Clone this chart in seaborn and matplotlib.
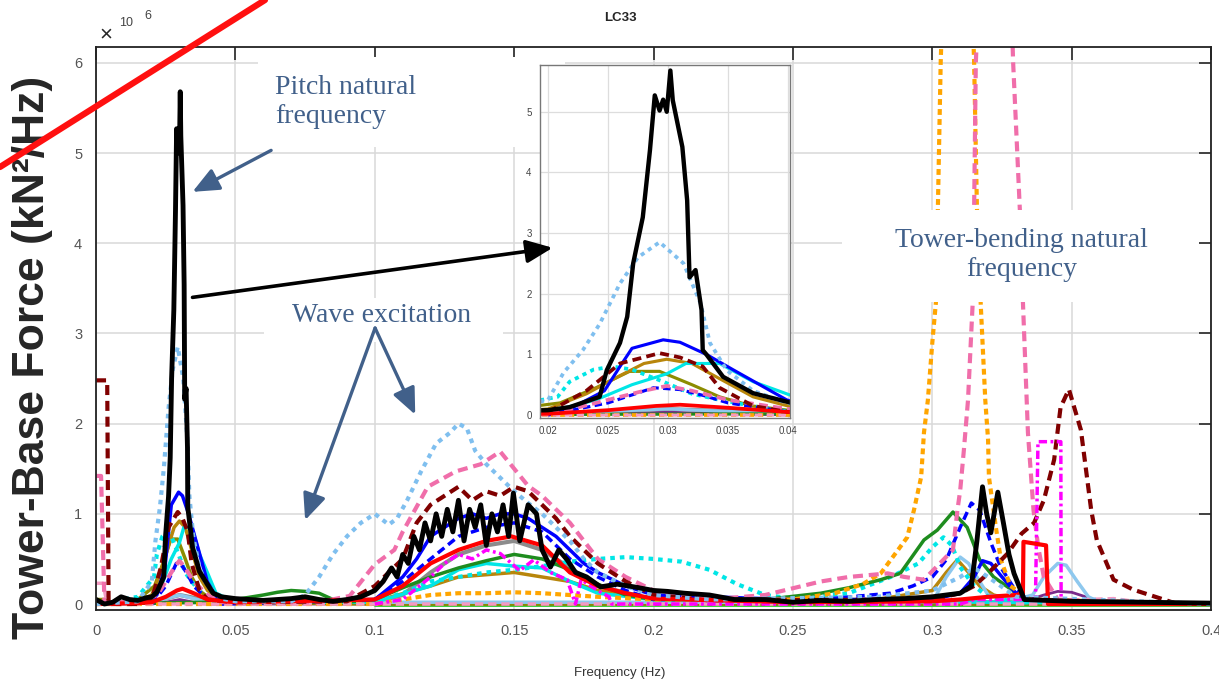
import matplotlib
matplotlib.use("Agg")
import matplotlib.pyplot as plt
import seaborn as sns
from matplotlib.patches import Rectangle
from matplotlib.lines import Line2D

# PSD of tower-base force for LC33, values in 1e6 kN^2/Hz
# each series is a list of (frequency Hz, psd) points
black = [(0.0, 0.05), (0.003, 0.0), (0.006, 0.02), (0.009, 0.08), (0.012, 0.05), (0.015, 0.04),
         (0.018, 0.07), (0.02, 0.08), (0.0218, 0.13), (0.0243, 0.3), (0.0249, 0.74), (0.026, 1.19),
         (0.0266, 1.62), (0.0271, 2.5), (0.0279, 3.26), (0.0285, 4.37), (0.0289, 5.27), (0.0293, 5.02),
         (0.0296, 5.2), (0.0299, 5.0), (0.0302, 5.68), (0.0304, 5.19), (0.0312, 4.42), (0.0316, 3.54),
         (0.0318, 2.27), (0.0323, 2.39), (0.0328, 1.73), (0.0329, 1.07), (0.0332, 1.0), (0.0346, 0.63),
         (0.0371, 0.36), (0.0399, 0.22), (0.042, 0.12), (0.045, 0.08), (0.05, 0.06), (0.055, 0.05),
         (0.06, 0.04), (0.065, 0.05), (0.07, 0.06), (0.075, 0.08), (0.08, 0.05), (0.085, 0.03),
         (0.09, 0.05), (0.095, 0.08), (0.1, 0.15), (0.103, 0.25), (0.106, 0.4), (0.108, 0.3),
         (0.11, 0.55), (0.112, 0.45), (0.114, 0.75), (0.116, 0.6), (0.118, 0.9), (0.12, 0.7),
         (0.122, 1.0), (0.124, 0.75), (0.126, 1.05), (0.128, 0.8), (0.13, 1.15), (0.132, 0.7),
         (0.134, 1.05), (0.136, 0.85), (0.138, 1.1), (0.14, 0.65), (0.142, 1.0), (0.144, 0.8),
         (0.146, 1.1), (0.148, 0.75), (0.1497, 1.23), (0.152, 0.7), (0.155, 1.1), (0.158, 1.0),
         (0.16, 0.6), (0.163, 0.41), (0.166, 0.6), (0.169, 0.49), (0.172, 0.35), (0.176, 0.3),
         (0.181, 0.19), (0.187, 0.22), (0.193, 0.19), (0.2, 0.15), (0.205, 0.14), (0.211, 0.12),
         (0.22, 0.1), (0.229, 0.05), (0.24, 0.05), (0.25, 0.02), (0.26, 0.04), (0.27, 0.03),
         (0.28, 0.05), (0.29, 0.06), (0.3, 0.08), (0.305, 0.1), (0.31, 0.12), (0.314, 0.2),
         (0.316, 0.7), (0.318, 1.3), (0.3195, 1.0), (0.321, 0.79), (0.3235, 1.24), (0.3255, 0.9),
         (0.3275, 0.55), (0.3293, 0.34), (0.333, 0.05), (0.35, 0.03), (0.4, 0.01)]

skyblue = [(0.0, 0.0), (0.015, 0.03), (0.02, 0.25), (0.0213, 0.7), (0.0229, 1.07), (0.0243, 1.5),
           (0.026, 2.17), (0.0275, 2.6), (0.0293, 2.85), (0.0313, 2.5), (0.0327, 1.85), (0.0335, 1.19),
           (0.0349, 0.74), (0.0371, 0.4), (0.0399, 0.2), (0.045, 0.06), (0.05, 0.03), (0.07, 0.03),
           (0.075, 0.1), (0.08, 0.3), (0.085, 0.55), (0.09, 0.75), (0.095, 0.9), (0.1, 1.0),
           (0.105, 0.88), (0.108, 0.95), (0.1116, 1.15), (0.1166, 1.47), (0.122, 1.78), (0.127, 1.9),
           (0.13, 2.0), (0.133, 1.95), (0.136, 1.7), (0.14, 1.55), (0.145, 1.4), (0.15, 1.25),
           (0.155, 1.12), (0.16, 1.0), (0.165, 0.85), (0.17, 0.7), (0.175, 0.5), (0.18, 0.35),
           (0.19, 0.2), (0.2, 0.1), (0.22, 0.05), (0.28, 0.08), (0.3, 0.15), (0.31, 0.3),
           (0.315, 0.4), (0.32, 0.3), (0.33, 0.08), (0.4, 0.0)]

pink = [(0.0, 1.42), (0.0018, 1.42), (0.003, 0.02), (0.015, 0.02), (0.022, 0.1), (0.025, 0.25),
        (0.028, 0.4), (0.0299, 0.48), (0.032, 0.4), (0.035, 0.25), (0.04, 0.1), (0.045, 0.02),
        (0.08, 0.02), (0.091, 0.09), (0.1, 0.44), (0.107, 0.6), (0.11, 0.8), (0.119, 1.3),
        (0.129, 1.47), (0.138, 1.55), (0.145, 1.69), (0.15, 1.5), (0.155, 1.31), (0.16, 1.2),
        (0.17, 0.9), (0.18, 0.5), (0.19, 0.3), (0.2, 0.15), (0.22, 0.05), (0.24, 0.1), (0.26, 0.25),
        (0.27, 0.3), (0.284, 0.34), (0.29, 0.3), (0.297, 0.27), (0.3074, 0.6), (0.309, 1.04),
        (0.31, 1.26), (0.3113, 1.7), (0.3128, 2.26), (0.3145, 3.35), (0.315, 4.4), (0.3156, 6.0),
        (0.317, 7.0), (0.328, 7.0), (0.329, 6.0), (0.3314, 4.37), (0.3325, 3.35), (0.3343, 1.9),
        (0.3363, 1.04), (0.338, 0.63), (0.34, 0.3), (0.345, 0.05), (0.36, 0.03), (0.4, 0.0)]

maroon = [(0.0, 2.48), (0.004, 2.48), (0.0045, 0.0), (0.015, 0.0), (0.02, 0.05), (0.0232, 0.4),
          (0.026, 0.85), (0.0293, 1.02), (0.031, 0.95), (0.0329, 0.8), (0.0343, 0.45), (0.0371, 0.15),
          (0.04, 0.05), (0.05, 0.02), (0.09, 0.03), (0.1, 0.2), (0.105, 0.35), (0.11, 0.5),
          (0.115, 0.9), (0.12, 1.1), (0.125, 1.2), (0.13, 1.3), (0.135, 1.15), (0.14, 1.25),
          (0.145, 1.2), (0.15, 1.3), (0.155, 1.25), (0.16, 1.1), (0.165, 0.95), (0.17, 0.75),
          (0.175, 0.6), (0.18, 0.45), (0.19, 0.25), (0.2, 0.1), (0.22, 0.04), (0.3, 0.05),
          (0.31, 0.12), (0.315, 0.2), (0.32, 0.34), (0.327, 0.56), (0.332, 0.78), (0.3365, 0.9),
          (0.34, 1.15), (0.3437, 1.6), (0.346, 2.18), (0.349, 2.38), (0.3533, 1.93), (0.357, 1.04),
          (0.359, 0.71), (0.365, 0.27), (0.372, 0.16), (0.387, 0.01), (0.4, 0.0)]

blue = [(0.0, 0.0), (0.015, 0.02), (0.0218, 0.1), (0.0247, 0.4), (0.026, 0.8), (0.027, 1.1),
        (0.0296, 1.24), (0.031, 1.2), (0.0332, 1.0), (0.0354, 0.75), (0.0399, 0.25), (0.043, 0.08),
        (0.05, 0.03), (0.1, 0.05), (0.11, 0.3), (0.115, 0.5), (0.12, 0.75), (0.125, 0.85),
        (0.13, 0.95), (0.135, 1.0), (0.14, 0.95), (0.145, 1.0), (0.15, 1.0), (0.155, 0.95),
        (0.16, 0.85), (0.165, 0.75), (0.17, 0.6), (0.175, 0.45), (0.18, 0.35), (0.19, 0.2),
        (0.2, 0.1), (0.25, 0.05), (0.3, 0.05), (0.31, 0.12), (0.315, 0.3), (0.318, 0.48),
        (0.321, 0.45), (0.325, 0.3), (0.33, 0.12), (0.335, 0.05), (0.4, 0.0)]

blue_dash = [(0.02, 0.0), (0.025, 0.2), (0.0288, 0.45), (0.031, 0.42), (0.033, 0.32), (0.035, 0.2),
             (0.04, 0.05), (0.045, 0.0), (0.1, 0.05), (0.11, 0.25), (0.12, 0.5), (0.13, 0.75),
             (0.14, 0.85), (0.15, 0.9), (0.16, 0.8), (0.17, 0.5), (0.18, 0.3), (0.19, 0.15),
             (0.2, 0.05), (0.26, 0.05), (0.285, 0.12), (0.293, 0.2), (0.3, 0.3), (0.305, 0.49),
             (0.31, 0.85), (0.314, 1.12), (0.317, 1.04), (0.321, 0.68), (0.3245, 0.41), (0.329, 0.19),
             (0.335, 0.05), (0.4, 0.0)]

cyan = [(0.0, 0.0), (0.015, 0.02), (0.02, 0.05), (0.024, 0.25), (0.027, 0.5), (0.0299, 0.68),
        (0.0315, 0.85), (0.0343, 0.85), (0.0371, 0.55), (0.0399, 0.35), (0.043, 0.12), (0.05, 0.02),
        (0.1, 0.02), (0.12, 0.2), (0.13, 0.38), (0.14, 0.45), (0.15, 0.42), (0.16, 0.4),
        (0.17, 0.25), (0.18, 0.12), (0.2, 0.05), (0.4, 0.0)]

cyan_dot = [(0.0, 0.0), (0.015, 0.08), (0.0208, 0.3), (0.0218, 0.55), (0.0238, 0.75), (0.0254, 0.8),
            (0.027, 0.75), (0.0296, 0.55), (0.032, 0.35), (0.0343, 0.25), (0.037, 0.15), (0.04, 0.06),
            (0.045, 0.02), (0.1, 0.03), (0.11, 0.12), (0.12, 0.25), (0.13, 0.3), (0.14, 0.35),
            (0.15, 0.38), (0.16, 0.42), (0.17, 0.47), (0.18, 0.5), (0.19, 0.52), (0.2, 0.5),
            (0.21, 0.47), (0.22, 0.38), (0.23, 0.22), (0.24, 0.1), (0.25, 0.06), (0.27, 0.12),
            (0.285, 0.3), (0.295, 0.45), (0.3, 0.63), (0.304, 0.74), (0.307, 0.65), (0.31, 0.41),
            (0.315, 0.2), (0.32, 0.08), (0.33, 0.02), (0.4, 0.0)]

goldenrod = [(0.0, 0.0), (0.015, 0.03), (0.02, 0.1), (0.0232, 0.35), (0.026, 0.65), (0.028, 0.85),
             (0.0299, 0.92), (0.032, 0.85), (0.0343, 0.6), (0.0371, 0.3), (0.04, 0.15), (0.045, 0.04),
             (0.1, 0.03), (0.12, 0.2), (0.13, 0.3), (0.15, 0.35), (0.17, 0.25), (0.18, 0.15),
             (0.2, 0.05), (0.28, 0.05), (0.3, 0.15), (0.305, 0.35), (0.309, 0.49), (0.313, 0.35),
             (0.317, 0.2), (0.322, 0.1), (0.33, 0.04), (0.4, 0.0)]

olive = [(0.0, 0.05), (0.003, 0.05), (0.005, 0.0), (0.015, 0.05), (0.021, 0.2), (0.024, 0.45),
         (0.0268, 0.72), (0.0293, 0.72), (0.032, 0.5), (0.0343, 0.3), (0.037, 0.15), (0.04, 0.08),
         (0.045, 0.02), (0.1, 0.0), (0.4, 0.0)]

green = [(0.0, 0.0), (0.04, 0.02), (0.05, 0.05), (0.06, 0.1), (0.065, 0.13), (0.07, 0.15),
         (0.075, 0.14), (0.08, 0.12), (0.085, 0.05), (0.09, 0.02), (0.1, 0.05), (0.11, 0.18),
         (0.12, 0.3), (0.13, 0.4), (0.14, 0.48), (0.15, 0.55), (0.16, 0.5), (0.17, 0.38),
         (0.18, 0.22), (0.19, 0.1), (0.2, 0.05), (0.24, 0.05), (0.26, 0.12), (0.27, 0.18),
         (0.2815, 0.27), (0.2885, 0.34), (0.297, 0.71), (0.3018, 0.82), (0.3074, 1.02),
         (0.3125, 0.85), (0.317, 0.49), (0.322, 0.3), (0.327, 0.19), (0.333, 0.05), (0.4, 0.0)]

red = [(0.0, 0.0), (0.015, 0.01), (0.02, 0.02), (0.025, 0.08), (0.029, 0.15), (0.031, 0.17),
       (0.035, 0.12), (0.04, 0.05), (0.05, 0.02), (0.1, 0.05), (0.11, 0.2), (0.12, 0.45),
       (0.13, 0.6), (0.14, 0.7), (0.149, 0.75), (0.16, 0.65), (0.165, 0.5), (0.17, 0.35),
       (0.18, 0.2), (0.19, 0.12), (0.2, 0.06), (0.25, 0.02), (0.3, 0.03), (0.31, 0.05),
       (0.32, 0.08), (0.33, 0.1), (0.3325, 0.12), (0.3327, 0.69), (0.3408, 0.65), (0.3415, 0.0),
       (0.4, 0.0)]

magenta = [(0.1, 0.0), (0.11, 0.05), (0.12, 0.3), (0.125, 0.45), (0.13, 0.55), (0.135, 0.5),
           (0.14, 0.6), (0.145, 0.56), (0.152, 0.37), (0.157, 0.49), (0.163, 0.35), (0.169, 0.27),
           (0.172, 0.0), (0.174, 0.27), (0.18, 0.15), (0.184, 0.08), (0.185, 0.0), (0.31, 0.0),
           (0.315, 0.05), (0.337, 0.05), (0.3379, 1.8), (0.3461, 1.8), (0.3462, 0.0), (0.4, 0.0)]

orange = [(0.0, 0.0), (0.1, 0.0), (0.11, 0.05), (0.12, 0.1), (0.13, 0.12), (0.14, 0.12),
          (0.15, 0.13), (0.16, 0.12), (0.17, 0.1), (0.18, 0.08), (0.2, 0.05), (0.25, 0.05),
          (0.265, 0.12), (0.275, 0.22), (0.2815, 0.34), (0.2877, 0.6), (0.291, 0.74), (0.2934, 1.04),
          (0.296, 1.41), (0.297, 1.9), (0.2984, 2.26), (0.3, 2.9), (0.3013, 3.35), (0.302, 4.4),
          (0.303, 6.0), (0.304, 7.0), (0.314, 7.0), (0.315, 6.0), (0.316, 4.4), (0.3174, 3.3),
          (0.319, 2.26), (0.32, 1.82), (0.3203, 1.41), (0.3228, 0.85), (0.3246, 0.49), (0.328, 0.2),
          (0.335, 0.05), (0.4, 0.0)]

gray = [(0.0, 0.0), (0.02, 0.02), (0.025, 0.06), (0.03, 0.1), (0.035, 0.07), (0.04, 0.02),
        (0.1, 0.02), (0.11, 0.1), (0.12, 0.35), (0.13, 0.55), (0.14, 0.65), (0.15, 0.7),
        (0.16, 0.6), (0.17, 0.4), (0.18, 0.2), (0.2, 0.05), (0.4, 0.0)]

purple = [(0.02, 0.0), (0.025, 0.02), (0.03, 0.05), (0.035, 0.02), (0.04, 0.0), (0.33, 0.0),
          (0.335, 0.05), (0.34, 0.1), (0.345, 0.14), (0.35, 0.13), (0.355, 0.08), (0.36, 0.02),
          (0.37, 0.0)]

lightblue = [(0.02, 0.02), (0.03, 0.1), (0.04, 0.02), (0.3, 0.02), (0.305, 0.3), (0.31, 0.52),
             (0.313, 0.45), (0.316, 0.3), (0.32, 0.1), (0.33, 0.05), (0.336, 0.1), (0.34, 0.3),
             (0.345, 0.45), (0.348, 0.43), (0.352, 0.25), (0.356, 0.08), (0.36, 0.02)]

lightpink = [(0.0, 0.23), (0.0025, 0.23), (0.004, 0.0), (0.35, 0.0), (0.355, 0.05), (0.365, 0.06),
             (0.375, 0.02), (0.4, 0.0)]

lime = [(0.1, 0.0), (0.4, 0.0)]

xticks = [0, 0.05, 0.1, 0.15, 0.2, 0.25, 0.3, 0.35, 0.4]
xtick_labels = ["0", "0.05", "0.1", "0.15", "0.2", "0.25", "0.3", "0.35", "0.4"]
yticks = [0, 1, 2, 3, 4, 5, 6]
inset_xticks = [0.02, 0.025, 0.03, 0.035, 0.04]
inset_xtick_labels = ["0.02", "0.025", "0.03", "0.035", "0.04"]
inset_yticks = [0, 1, 2, 3, 4, 5]

DASH = (0, (2.4, 1.4))
DOT = (0, (1.1, 1.2))
DASHDOT = (0, (2.4, 1.0, 0.8, 1.0))
SHORTDASH = (0, (1.4, 1.0))

# drawn bottom to top
series = [
    (lime, "#33cc33", 3.5, "-"),
    (purple, "#7a2a8a", 2.0, "-"),
    (gray, "#8c8c8c", 3.0, "-"),
    (olive, "#8c8c00", 2.5, "-"),
    (goldenrod, "#b8860b", 2.5, "-"),
    (lightblue, "#8ec8ee", 2.5, "-"),
    (cyan, "#00e6e6", 2.5, "-"),
    (cyan_dot, "#00e6e6", 3.0, DOT),
    (green, "#1e8c1e", 2.5, "-"),
    (blue_dash, "#0000ff", 2.5, DASH),
    (blue, "#0000ff", 2.5, "-"),
    (orange, "#ffa500", 3.0, SHORTDASH),
    (lightpink, "#f49ac2", 2.5, DASH),
    (pink, "#f06eaa", 3.0, DASH),
    (maroon, "#800000", 3.0, DASH),
    (magenta, "#ff00ff", 2.5, DASHDOT),
    (red, "#ff0000", 3.0, "-"),
    (skyblue, "#7fbfef", 3.0, DOT),
    (black, "#000000", 3.5, "-"),
]

sns.set_style("white")
plt.rcParams["font.family"] = ["Liberation Sans", "DejaVu Sans"]

fig = plt.figure(figsize=(12.19, 6.82), dpi=100)
ax = fig.add_axes([0.0788, 0.1056, 0.9147, 0.826])
axin = fig.add_axes([0.443, 0.387, 0.205, 0.5176])

for a, scale in ((ax, 1.0), (axin, 0.9)):
    for pts, color, lw, ls in series:
        f = [p[0] for p in pts]
        v = [p[1] for p in pts]
        sns.lineplot(x=f, y=v, ax=a, color=color, lw=lw * scale, linestyle=ls,
                     sort=False, estimator=None, errorbar=None, legend=False)

# main axes
ax.set_xlim(0, 0.4)
ax.set_ylim(-0.066, 6.18)
ax.set_xticks(xticks)
ax.set_xticklabels(xtick_labels)
ax.set_yticks(yticks)
ax.grid(True, color="#d9d9d9", lw=1.1)
ax.tick_params(direction="in", length=9, width=1.2, top=True, right=True,
               labelsize=10.5, labelcolor="#555555", pad=10)
for s in ax.spines.values():
    s.set_color("#222222")
    s.set_linewidth(1.3)

# inset
axin.set_xlim(0.01933, 0.04017)
axin.set_ylim(-0.05, 5.77)
axin.set_xticks(inset_xticks)
axin.set_xticklabels(inset_xtick_labels)
axin.set_yticks(inset_yticks)
axin.grid(True, color="#dddddd", lw=0.9)
axin.tick_params(direction="in", length=4, width=0.8, labelsize=7,
                 labelcolor="#444444", pad=6)
for s in axin.spines.values():
    s.set_color("#777777")
    s.set_linewidth(1.0)

# white boxes behind the annotation texts
for x0, y0, w, h in [(0.0581, 5.07, 0.11, 0.99), (0.0603, 2.9, 0.0857, 0.49),
                     (0.2677, 3.35, 0.1278, 1.02)]:
    ax.add_patch(Rectangle((x0, y0), w, h, facecolor="white", edgecolor="none", zorder=3))

note = dict(family=["Liberation Serif", "DejaVu Serif"], fontsize=20, color="#41608a", zorder=6)
ax.text(0.0642, 5.57, "Pitch natural\nfrequency", ha="left", va="center", **note)
ax.text(0.1026, 3.20, "Wave excitation", ha="center", va="center", **note)
ax.text(0.3319, 3.87, "Tower-bending natural\nfrequency", ha="center", va="center",
        multialignment="center", **note)

blue_arrow = dict(arrowstyle="-|>,head_length=0.8,head_width=0.35", color="#41608a",
                  lw=2.4, mutation_scale=20, shrinkA=0, shrinkB=0)
ax.annotate("", xy=(0.0346, 4.57), xytext=(0.0628, 5.03), arrowprops=blue_arrow, zorder=7)
ax.annotate("", xy=(0.075, 0.93), xytext=(0.1001, 3.06), arrowprops=blue_arrow, zorder=7)
ax.annotate("", xy=(0.1145, 2.10), xytext=(0.1001, 3.06), arrowprops=blue_arrow, zorder=7)

# black arrow into the zoomed inset, drawn on top of the inset
axin.annotate("", xy=(0.1638, 3.95), xycoords=ax.transData,
              xytext=(0.0346, 3.40), textcoords=ax.transData,
              arrowprops=dict(arrowstyle="-|>,head_length=0.8,head_width=0.35", color="black",
                              lw=2.6, mutation_scale=20, shrinkA=0, shrinkB=0),
              annotation_clip=False, zorder=10)

# figure texts
fig.text(0.5086, 1 - 18 / 682, "LC33", ha="center", va="center", fontsize=9.5, fontweight="bold")
fig.text(0.5086, 1 - 673 / 682, "Frequency (Hz)", ha="center", va="center", fontsize=9.5,
         color="#333333")
fig.text(0.027, 0.4765, "Tower-Base Force (kN²/Hz)", rotation=90, ha="center", va="center",
         fontsize=32, fontweight="bold")
fig.text(106 / 1219, 1 - 35 / 682, "×", ha="center", va="center", fontsize=16)
fig.text(126 / 1219, 1 - 23 / 682, "10", ha="center", va="center", fontsize=9, color="#444444")
fig.text(148 / 1219, 1 - 16 / 682, "6", ha="center", va="center", fontsize=9, color="#444444")

# red stroke across the top-left corner
fig.add_artist(Line2D([0, 265 / 1219], [1 - 167 / 682, 1.0], transform=fig.transFigure,
                      color="#ff1010", lw=4.5, zorder=20))

fig.savefig("out.png", dpi=100)
